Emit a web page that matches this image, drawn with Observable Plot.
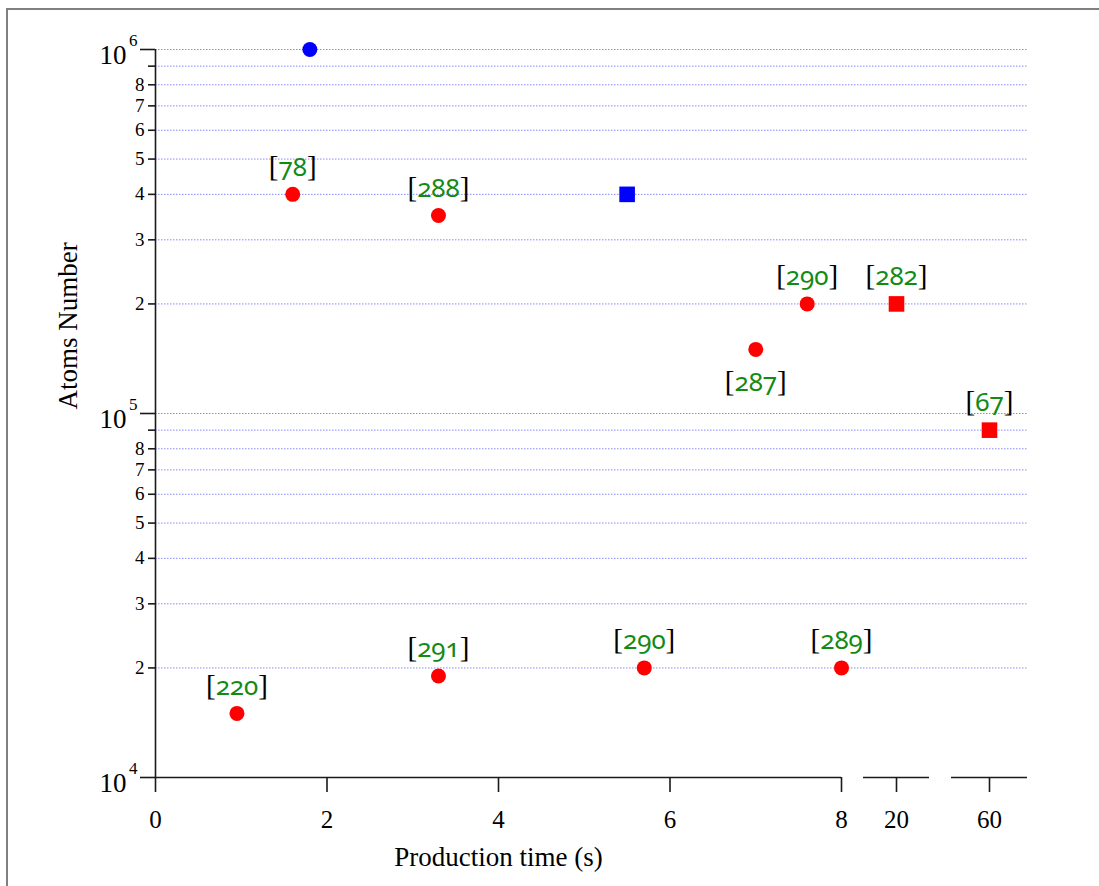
<!DOCTYPE html>
<html>
<head>
<meta charset="utf-8">
<script src="https://cdn.jsdelivr.net/npm/d3@7"></script>
<script src="https://cdn.jsdelivr.net/npm/@observablehq/plot@0.6"></script>
<style>
  html, body { margin: 0; padding: 0; background: #fff; overflow: hidden; }
  #wrap { position: relative; width: 1099px; height: 886px; }
  #border { position: absolute; left: 6px; top: 8px; width: 1200px; height: 1000px;
            border-left: 2px solid #808080; border-top: 2px solid #808080; pointer-events: none; }
  #chart { position: absolute; left: 0; top: 0; }
  .oldstyle { font-variant-numeric: oldstyle-nums; font-feature-settings: "onum" 1; }
</style>
</head>
<body>
<div id="wrap"><div id="chart"></div><div id="border"></div></div>
<script>
// ---- data ----
const times  = [0.95, 1.6, 3.3, 3.3, 5.7, 7.0, 7.6, 8.0, 1.8, 5.5, 20, 60];
const atoms  = [1.5e4, 4.0e5, 3.5e5, 1.9e4, 2.0e4, 1.5e5, 2.0e5, 2.0e4, 1.0e6, 4.0e5, 2.0e5, 9.0e4];
const groups = ["ref", "ref", "ref", "ref", "ref", "ref", "ref", "ref", "other", "other", "ref", "ref"];
const shapes = ["circle", "circle", "circle", "circle", "circle", "circle", "circle", "circle", "circle", "square", "square", "square"];
const refs   = ["220", "78", "288", "291", "290", "287", "290", "289", "", "", "282", "67"];
const refSide = ["above", "above", "above", "above", "above", "below", "above", "above", "", "", "above", "above"];

const xTicks = [0, 2, 4, 6, 8, 20, 60];
const xSegments = [[0, 8], [10, 30], [40, 80]];       // broken x-axis pieces
const yMajor = [1e4, 1e5, 1e6];
const yMinor = [2e4, 3e4, 4e4, 5e4, 6e4, 7e4, 8e4, 9e4, 2e5, 3e5, 4e5, 5e5, 6e5, 7e5, 8e5, 9e5];
const xTitle = "Production time (s)";
const yTitle = "Atoms Number";

// ---- build table ----
const rows = times.map((t, i) => ({t, n: atoms[i], group: groups[i], shape: shapes[i], ref: refs[i], side: refSide[i]}));
const mantissa = d => Math.round(d / 10 ** Math.floor(Math.log10(d) + 1e-9));
const minorLabelled = yMinor.filter(d => mantissa(d) !== 9);

// piecewise (broken) x scale
const xDomain = xSegments.flat();
const xRange = [155, 841, 863, 929, 951, 1027];

const serif = "Liberation Serif";
const axisColor = "#1a1a1a";
const ink = "#000";

const plot = Plot.plot({
  width: 1099,
  height: 886,
  marginTop: 49,
  marginBottom: 109,
  marginLeft: 155,
  marginRight: 72,
  style: {fontFamily: serif, background: "transparent", color: ink},
  x: {type: "linear", domain: xDomain, range: xRange},
  y: {type: "log", domain: [1e4, 1e6]},
  color: {domain: ["ref", "other"], range: ["#ff0000", "#0000ff"]},
  marks: [
    // grid
    Plot.ruleY([...yMinor, 1e5, 1e6], {x1: xDomain[0], x2: xDomain[xDomain.length - 1], stroke: "#6a6aff", strokeOpacity: 0.8, strokeWidth: 1, strokeDasharray: "1.5,1.5"}),
    // axis lines
    Plot.ruleX([xDomain[0]], {y1: yMajor[0], y2: yMajor[yMajor.length - 1], stroke: axisColor, strokeWidth: 1.6}),
    Plot.ruleY(xSegments, {y: yMajor[0], x1: d => d[0], x2: d => d[1], stroke: axisColor, strokeWidth: 1.6}),
    // y ticks
    Plot.axisY(yMajor, {tickSize: 15, tickFormat: () => "", label: null, stroke: axisColor, strokeWidth: 1.6}),
    Plot.axisY(yMinor, {tickSize: 7, tickFormat: () => "", label: null, stroke: axisColor, strokeWidth: 1.6}),
    Plot.text(minorLabelled, {x: xDomain[0], y: d => d, text: d => String(mantissa(d)), textAnchor: "end", dx: -11, fontSize: 19, fontFamily: serif, fill: ink}),
    Plot.text(yMajor, {x: xDomain[0], y: d => d, text: () => "10", textAnchor: "end", dx: -29, dy: 6, fontSize: 27, fontFamily: serif, fill: ink}),
    Plot.text(yMajor, {x: xDomain[0], y: d => d, text: d => String(Math.round(Math.log10(d))), textAnchor: "end", dx: -18, dy: -9, fontSize: 17, fontFamily: serif, fill: ink}),
    // x ticks
    Plot.axisX(xTicks, {tickSize: 15, tickFormat: () => "", label: null, stroke: axisColor, strokeWidth: 1.6}),
    Plot.text(xTicks, {x: d => d, y: yMajor[0], text: d => String(d), dy: 42, fontSize: 25, fontFamily: serif, fill: ink}),
    // titles
    Plot.text([xTitle], {x: (xSegments[0][0] + xSegments[0][1]) / 2, y: yMajor[0], dy: 80, fontSize: 27, fontFamily: serif, fill: ink}),
    Plot.text([yTitle], {frameAnchor: "left", dx: -87, dy: -4, rotate: -90, fontSize: 27, fontFamily: serif, fill: ink}),
    // points
    Plot.dot(rows.filter(d => d.shape === "circle"), {x: "t", y: "n", fill: "group", r: 7.5, symbol: "circle"}),
    Plot.dot(rows.filter(d => d.shape === "square"), {x: "t", y: "n", fill: "group", r: 8.8, symbol: "square"}),
    // reference labels
    Plot.text(rows.filter(d => d.side === "above"), {x: "t", y: "n", text: "ref", dy: -28, fontSize: 29, fontFamily: serif, fontStyle: "normal", fill: ink}),
    Plot.text(rows.filter(d => d.side === "below"), {x: "t", y: "n", text: "ref", dy: 32, fontSize: 29, fontFamily: serif, fontStyle: "normal", fill: ink})
  ]
});

// colour brackets black, reference numbers green with old-style figures
d3.select(plot).selectAll('g[font-style="normal"] text').each(function () {
  const t = this.textContent;
  const s = d3.select(this);
  s.text(null);
  s.append("tspan").attr("fill", "#000").text("[");
  s.append("tspan").attr("fill", "#138a13").attr("class", "oldstyle")
    .attr("font-family", "Noto Sans").attr("font-size", 26)
    .text(t);
  s.append("tspan").attr("fill", "#000").text("]");
});

document.getElementById("chart").append(plot);
</script>
</body>
</html>
